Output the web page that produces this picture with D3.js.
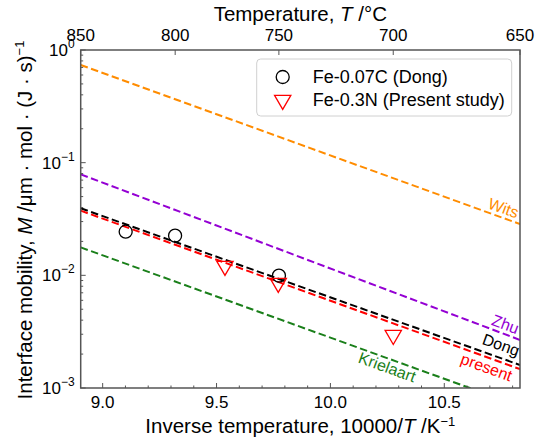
<!DOCTYPE html>
<html>
<head>
<meta charset="utf-8">
<script src="https://cdn.jsdelivr.net/npm/d3@7"></script>
<style>
  body { margin: 0; background: #fff; }
  svg { font-family: "Liberation Sans", Arial, sans-serif; }
</style>
</head>
<body>
<div id="chart"></div>
<script>
var svgWidth = 535;
var svgHeight = 439;

var margin = { top: 50, right: 15, bottom: 51, left: 80.7 };
var chartWidth = svgWidth - margin.left - margin.right;
var chartHeight = svgHeight - margin.top - margin.bottom;

// data
var tempTicks = [850, 800, 750, 700, 650];          // top axis, °C
var invTTicks = [9.0, 9.5, 10.0, 10.5];             // bottom axis
var yDecades = [-3, -2, -1, 0];

var lineNames = ["Wits", "Zhu", "Dong", "present", "Krielaart"];
var lineColors = ["#ff8c00", "#9400d3", "#000000", "#ff0000", "#1a7f1a"];
var lineInvT = [10000 / 1123.15, 10000 / 923.15];    // ends of each line
var lineM = [
  [0.736, 0.0285],
  [0.0788, 0.00267],
  [0.0394, 0.0016],
  [0.0375, 0.00147],
  [0.0177, 0.00069]
];
var labelInvT = [10.81, 10.81, 10.81, 10.81, 10.385];

var dongInvT = [9.101, 9.318, 9.774];
var dongM = [0.0244, 0.0225, 0.00993];
var presentInvT = [9.537, 9.771, 10.276];
var presentM = [0.0121, 0.00855, 0.00295];

var legendLabels = ["Fe-0.07C (Dong)", "Fe-0.3N (Present study)"];

var svg = d3.select("#chart")
  .append("svg")
  .attr("width", svgWidth)
  .attr("height", svgHeight);

var chartGroup = svg.append("g")
  .attr("transform", `translate(${margin.left}, ${margin.top})`);

var x = d3.scaleLinear()
  .domain([10000 / 1123.15, 10000 / 923.15])
  .range([0, chartWidth]);

var y = d3.scaleLog()
  .domain([1e-3, 1])
  .range([chartHeight, 0]);

var axisColor = "#555";

chartGroup.append("clipPath")
  .attr("id", "clip")
  .append("rect")
  .attr("width", chartWidth)
  .attr("height", chartHeight);

// lines
var lineGen = d3.line()
  .x(d => x(d[0]))
  .y(d => y(d[1]));

var lines = chartGroup.append("g").attr("clip-path", "url(#clip)");
lineNames.forEach((name, i) => {
  var pts = lineInvT.map((t, j) => [t, lineM[i][j]]);
  lines.append("path")
    .attr("d", lineGen(pts))
    .attr("fill", "none")
    .attr("stroke", lineColors[i])
    .attr("stroke-width", 2)
    .attr("stroke-dasharray", "7.5,3.5");
});

// line labels
var labelOffsets = [-4, -4, -7, 15, 14];
function lineValue(i, t) {
  var l0 = Math.log10(lineM[i][0]), l1 = Math.log10(lineM[i][1]);
  var f = (t - lineInvT[0]) / (lineInvT[1] - lineInvT[0]);
  return Math.pow(10, l0 + f * (l1 - l0));
}
lineNames.forEach((name, i) => {
  var px = x(labelInvT[i]);
  var py = y(lineValue(i, labelInvT[i]));
  var ang = Math.atan2(y(lineM[i][1]) - y(lineM[i][0]), x(lineInvT[1]) - x(lineInvT[0])) * 180 / Math.PI;
  chartGroup.append("text")
    .attr("transform", `translate(${px}, ${py}) rotate(${ang})`)
    .attr("y", labelOffsets[i])
    .attr("text-anchor", "end")
    .attr("fill", lineColors[i])
    .attr("font-size", 16)
    .text(name);
});

// markers
chartGroup.selectAll(".dong")
  .data(dongInvT)
  .enter()
  .append("circle")
  .attr("cx", d => x(d))
  .attr("cy", (d, i) => y(dongM[i]))
  .attr("r", 6.5)
  .attr("fill", "none")
  .attr("stroke", "#000")
  .attr("stroke-width", 1.3);

var tri = d3.symbol().type(d3.symbolTriangle).size(115);
chartGroup.selectAll(".present")
  .data(presentInvT)
  .enter()
  .append("path")
  .attr("d", tri)
  .attr("transform", (d, i) => `translate(${x(d)}, ${y(presentM[i])}) rotate(180)`)
  .attr("fill", "none")
  .attr("stroke", "#ff0000")
  .attr("stroke-width", 1.3);

// ticks (inward)
var ticks = chartGroup.append("g")
  .attr("stroke", axisColor)
  .attr("stroke-width", 1);

var minorX = d3.range(90, 109).map(d => d / 10);
minorX.forEach(t => {
  var major = invTTicks.some(m => Math.abs(m - t) < 1e-9);
  ticks.append("line")
    .attr("x1", x(t)).attr("x2", x(t))
    .attr("y1", chartHeight).attr("y2", chartHeight - (major ? 5 : 2.5));
});

tempTicks.forEach(T => {
  var xt = x(10000 / (T + 273.15));
  ticks.append("line")
    .attr("x1", xt).attr("x2", xt)
    .attr("y1", 0).attr("y2", 5);
});

yDecades.forEach(e => {
  ticks.append("line")
    .attr("x1", 0).attr("x2", 5)
    .attr("y1", y(Math.pow(10, e))).attr("y2", y(Math.pow(10, e)));
  if (e < 0) {
    d3.range(2, 10).forEach(k => {
      var v = k * Math.pow(10, e);
      ticks.append("line")
        .attr("x1", 0).attr("x2", 2.5)
        .attr("y1", y(v)).attr("y2", y(v));
    });
  }
});

// frame
chartGroup.append("rect")
  .attr("width", chartWidth)
  .attr("height", chartHeight)
  .attr("fill", "none")
  .attr("stroke", axisColor)
  .attr("stroke-width", 1.5);

// tick labels
chartGroup.selectAll(".xlab")
  .data(invTTicks)
  .enter()
  .append("text")
  .attr("x", d => x(d))
  .attr("y", chartHeight + 20)
  .attr("text-anchor", "middle")
  .attr("font-size", 17)
  .text(d => d.toFixed(1));

chartGroup.selectAll(".tlab")
  .data(tempTicks)
  .enter()
  .append("text")
  .attr("x", d => x(10000 / (d + 273.15)))
  .attr("y", -9)
  .attr("text-anchor", "middle")
  .attr("font-size", 17)
  .text(d => d);

yDecades.forEach(e => {
  var t = chartGroup.append("text")
    .attr("x", -6)
    .attr("y", y(Math.pow(10, e)) + 6)
    .attr("text-anchor", "end")
    .attr("font-size", 17);
  t.append("tspan").text("10");
  t.append("tspan")
    .attr("dy", -8)
    .attr("font-size", 12)
    .text(e === 0 ? "0" : "\u2212" + (-e));
});

// axis titles
var xt = svg.append("text")
  .attr("x", margin.left + chartWidth / 2)
  .attr("y", 433)
  .attr("text-anchor", "middle")
  .attr("font-size", 20.5);
xt.append("tspan").text("Inverse temperature, 10000/");
xt.append("tspan").attr("font-style", "italic").text("T");
xt.append("tspan").text(" /K");
xt.append("tspan").attr("dy", -7).attr("font-size", 13).text("\u22121");

var tt = svg.append("text")
  .attr("x", margin.left + chartWidth / 2)
  .attr("y", 21)
  .attr("text-anchor", "middle")
  .attr("font-size", 20.5);
tt.append("tspan").text("Temperature, ");
tt.append("tspan").attr("font-style", "italic").text("T");
tt.append("tspan").text(" /\u00b0C");

var yt = svg.append("text")
  .attr("transform", `translate(32, 220) rotate(-90)`)
  .attr("text-anchor", "middle")
  .attr("font-size", 20.5);
yt.append("tspan").text("Interface mobility, ");
yt.append("tspan").attr("font-style", "italic").text("M");
yt.append("tspan").text(" /\u03bcm \u00b7 mol \u00b7 (J \u00b7 s)");
yt.append("tspan").attr("dy", -8).attr("font-size", 13).text("\u22121");

// legend
var legend = chartGroup.append("g")
  .attr("transform", "translate(176, 9)");
legend.append("rect")
  .attr("width", 255)
  .attr("height", 57)
  .attr("rx", 4)
  .attr("fill", "#fff")
  .attr("fill-opacity", 0.85)
  .attr("stroke", "#d0d0d0");
legend.append("circle")
  .attr("cx", 26).attr("cy", 18).attr("r", 6.5)
  .attr("fill", "none").attr("stroke", "#000").attr("stroke-width", 1.3);
legend.append("path")
  .attr("d", tri)
  .attr("transform", "translate(26, 41) rotate(180)")
  .attr("fill", "none").attr("stroke", "#ff0000").attr("stroke-width", 1.3);
legend.selectAll(".ltext")
  .data(legendLabels)
  .enter()
  .append("text")
  .attr("x", 56)
  .attr("y", (d, i) => 24 + i * 23)
  .attr("font-size", 18)
  .text(d => d);
</script>
</body>
</html>
